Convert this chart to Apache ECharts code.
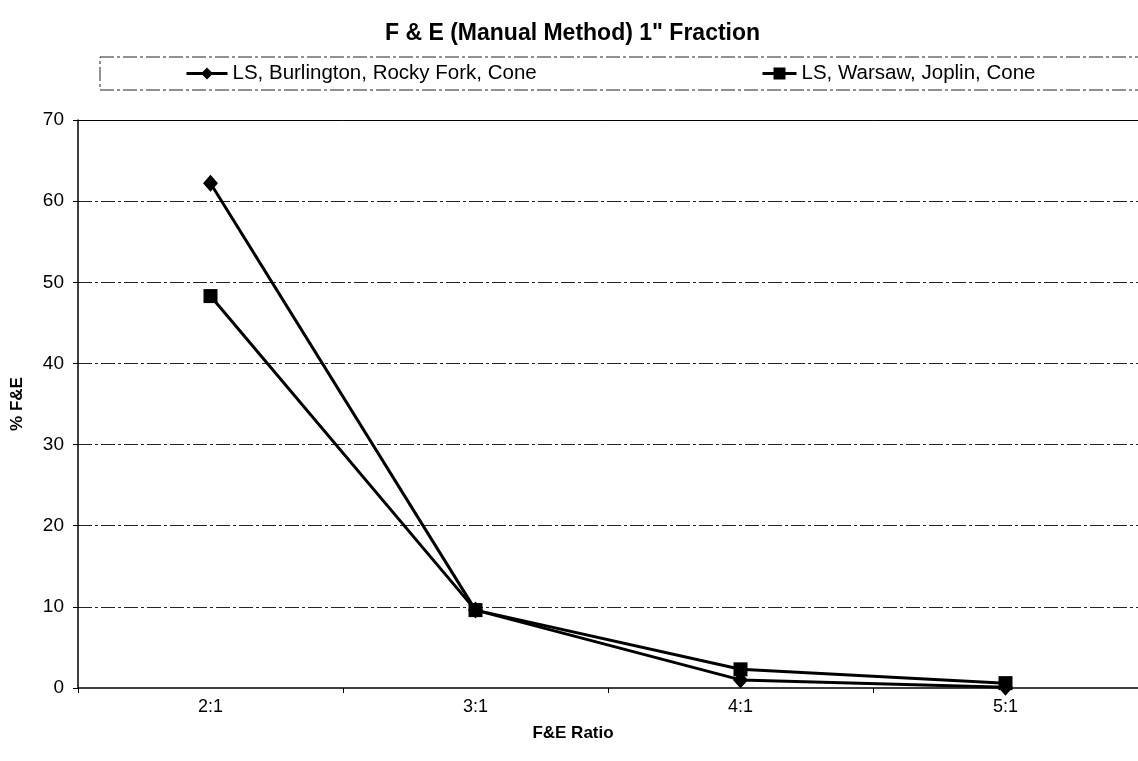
<!DOCTYPE html>
<html>
<head>
<meta charset="utf-8">
<script src="https://cdn.jsdelivr.net/npm/echarts@6/dist/echarts.min.js"></script>
<style>
html,body{margin:0;padding:0;background:#fff;}
#chart{width:1138px;height:761px;}
</style>
</head>
<body>
<div id="chart"></div>
<script>
const titleText = 'F & E (Manual Method) 1" Fraction';
const categories = ['2:1', '3:1', '4:1', '5:1'];
const seriesNames = ['LS, Burlington, Rocky Fork, Cone', 'LS, Warsaw, Joplin, Cone'];
const burlington = [62.2, 9.6, 1.0, 0.1];
const warsaw = [48.3, 9.6, 2.3, 0.6];
const yTicks = [0, 10, 20, 30, 40, 50, 60, 70];
const xName = 'F&E Ratio';
const yName = '% F&E';

const font = '"Liberation Sans", Arial, sans-serif';
const chart = echarts.init(document.getElementById('chart'), null, {renderer: 'canvas'});

chart.setOption({
  backgroundColor: '#fff',
  animation: false,
  title: {
    text: titleText,
    left: 385, top: 22, padding: 0,
    textStyle: {fontFamily: font, fontSize: 23, fontWeight: 'bold', color: '#000'}
  },
  graphic: [{
    type: 'rect',
    shape: {x: 100, y: 57, width: 1060, height: 33},
    style: {fill: 'none', stroke: '#222', lineWidth: 1, lineDash: [14, 3, 3, 3]},
    z: 0
  }],
  legend: [{
    data: [seriesNames[0]],
    left: 185, top: 63, padding: 0,
    itemWidth: 41, itemHeight: 15,
    lineStyle: {width: 3, color: '#000'},
    textStyle: {fontFamily: font, fontSize: 20.5, color: '#000'}
  }, {
    data: [seriesNames[1]],
    left: 761, top: 63, padding: 0,
    itemWidth: 34, itemHeight: 15,
    lineStyle: {width: 3, color: '#000'},
    textStyle: {fontFamily: font, fontSize: 20.5, color: '#000'}
  }],
  grid: {
    left: 78, right: -6, top: 120, bottom: 73,
    show: false
  },
  xAxis: [{
    type: 'category',
    data: categories,
    boundaryGap: true,
    name: xName,
    nameLocation: 'middle',
    nameGap: 37,
    nameTextStyle: {fontFamily: font, fontSize: 17, fontWeight: 'bold', color: '#000', padding: [0, 0, 0, -70]},
    axisLine: {lineStyle: {color: '#000', width: 1.5}},
    axisTick: {show: true, length: 5, lineStyle: {color: '#000'}},
    axisLabel: {fontFamily: font, fontSize: 18, color: '#000', margin: 10},
    splitLine: {show: false},
    z: 5
  }, {
    type: 'category',
    data: categories,
    position: 'top',
    axisLine: {show: true, lineStyle: {color: '#000', width: 1}},
    axisTick: {show: false},
    axisLabel: {show: false},
    splitLine: {show: false}
  }],
  yAxis: {
    type: 'value',
    min: 0, max: 70, interval: 10,
    name: yName,
    nameLocation: 'middle',
    nameGap: 52,
    nameRotate: 90,
    nameTextStyle: {fontFamily: font, fontSize: 17, fontWeight: 'bold', color: '#000'},
    axisLine: {show: true, lineStyle: {color: '#000', width: 1.5}},
    axisTick: {show: true, length: 5, lineStyle: {color: '#000'}},
    axisLabel: {fontFamily: font, fontSize: 19, color: '#000', margin: 14,
      formatter: v => yTicks.includes(v) ? String(v) : ''},
    splitLine: {show: true, showMinLine: false, showMaxLine: false,
      lineStyle: {color: '#222', width: 1, type: [14, 3, 3, 3]}}
  },
  series: [{
    name: seriesNames[0],
    type: 'line',
    data: burlington,
    symbol: 'diamond',
    symbolSize: [15, 17],
    lineStyle: {color: '#000', width: 3},
    itemStyle: {color: '#000'},
    z: 3
  }, {
    name: seriesNames[1],
    type: 'line',
    data: warsaw,
    symbol: 'rect',
    symbolSize: 14,
    lineStyle: {color: '#000', width: 3},
    itemStyle: {color: '#000'},
    z: 4
  }]
});
</script>
</body>
</html>
